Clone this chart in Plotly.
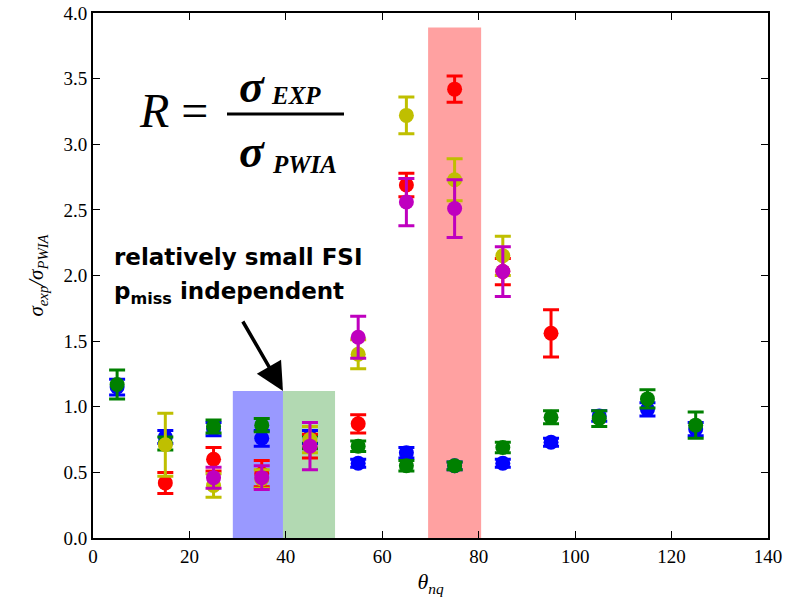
import plotly.graph_objects as go

# theta_nq bins (degrees)
theta_all = [5, 15, 25, 35, 45, 55, 65, 75, 85, 95, 105, 115, 125]
theta_red = [15, 25, 35, 45, 55, 65, 75, 85, 95]
theta_yel = [15, 25, 35, 45, 55, 65, 75, 85]
theta_mag = [25, 35, 45, 55, 65, 75, 85]

# ratio sigma_exp / sigma_PWIA and uncertainties
blue_val = [1.15, 0.77, 0.83, 0.76, 0.77, 0.57, 0.65, 0.55, 0.57, 0.73, 0.93, 0.98, 0.83]
blue_err = [0.06, 0.05, 0.05, 0.06, 0.05, 0.03, 0.04, 0.03, 0.03, 0.03, 0.04, 0.05, 0.05]
green_val = [1.17, 0.72, 0.85, 0.86, 0.73, 0.70, 0.55, 0.55, 0.69, 0.92, 0.91, 1.06, 0.86]
green_err = [0.11, 0.05, 0.05, 0.05, 0.05, 0.04, 0.04, 0.03, 0.04, 0.05, 0.06, 0.07, 0.10]
red_val = [0.42, 0.60, 0.49, 0.70, 0.87, 2.69, 3.42, 2.03, 1.56]
red_err = [0.08, 0.09, 0.10, 0.09, 0.07, 0.09, 0.10, 0.10, 0.18]
yel_val = [0.71, 0.40, 0.45, 0.75, 1.40, 3.22, 2.73, 2.15]
yel_err = [0.24, 0.09, 0.07, 0.10, 0.11, 0.14, 0.16, 0.15]
mag_val = [0.46, 0.46, 0.70, 1.53, 2.56, 2.51, 2.03]
mag_err = [0.08, 0.09, 0.18, 0.16, 0.18, 0.22, 0.19]

x_ticks = [0, 20, 40, 60, 80, 100, 120, 140]
y_ticks = [0.0, 0.5, 1.0, 1.5, 2.0, 2.5, 3.0, 3.5, 4.0]

# highlighted theta ranges: (x0, x1, y_top, fill)
bands = [
    (29.0, 39.4, 1.12, "rgba(0,0,255,0.4)"),
    (39.4, 50.2, 1.12, "rgba(0,128,0,0.3)"),
    (69.5, 80.5, 3.89, "rgba(255,0,0,0.37)"),
]

series = [
    (theta_all, blue_val, blue_err, "#0000ff"),
    (theta_all, green_val, green_err, "#008000"),
    (theta_red, red_val, red_err, "#ff0000"),
    (theta_yel, yel_val, yel_err, "#bfbf00"),
    (theta_mag, mag_val, mag_err, "#bf00bf"),
]

fig = go.Figure()
for xs, ys, es, col in series:
    fig.add_trace(go.Scatter(
        x=xs, y=ys, mode="markers",
        marker=dict(color=col, size=15, line=dict(width=0)),
        error_y=dict(type="data", array=es, visible=True,
                     color=col, thickness=3, width=8),
        showlegend=False,
    ))

for x0, x1, ytop, fill in bands:
    fig.add_shape(type="rect", x0=x0, x1=x1, y0=0, y1=ytop,
                  xref="x", yref="y", fillcolor=fill,
                  line=dict(width=0), layer="below")

L, R, T, B = 93, 36, 13, 62
W, H = 804, 600
pw, ph = W - L - R, H - T - B


def px(xp):
    return (xp - L) / pw


def py(yp):
    return (H - B - yp) / ph


serif = "Liberation Serif"
sans = "DejaVu Sans"

annotations = [
    dict(text="<i>R</i> =", x=px(173), y=py(111), font=dict(size=48, family=serif)),
    dict(text="<b><i>σ</i></b>", x=px(252), y=py(86), font=dict(size=46, family=serif)),
    dict(text="<b><i>EXP</i></b>", x=px(296), y=py(96), font=dict(size=25, family=serif)),
    dict(text="<b><i>σ</i></b>", x=px(252), y=py(151), font=dict(size=46, family=serif)),
    dict(text="<b><i>PWIA</i></b>", x=px(304), y=py(164), font=dict(size=25, family=serif)),
    dict(text="<b>relatively small FSI</b>", x=px(112), y=py(257), xanchor="left",
         font=dict(size=23, family=sans)),
    dict(text="<b>p<sub>miss</sub> independent</b>", x=px(112), y=py(293), xanchor="left",
         font=dict(size=23, family=sans)),
]
for a in annotations:
    a.setdefault("xanchor", "center")
    fig.add_annotation(xref="paper", yref="paper", yanchor="middle",
                       showarrow=False, font_color="black", **a)

# fraction bar of the formula
fig.add_shape(type="line", xref="paper", yref="paper",
              x0=px(227), x1=px(344), y0=py(114), y1=py(114),
              line=dict(color="black", width=3))

# arrow pointing at the boundary of the two low-angle bands
fig.add_annotation(x=39.4, y=1.12, xref="x", yref="y", ax=-41, ay=-71,
                   showarrow=True, arrowhead=2, arrowsize=1.6, arrowwidth=3.5,
                   arrowcolor="black", text="", standoff=0)

axis_common = dict(
    showline=True, linecolor="black", linewidth=2, mirror="ticks",
    ticks="inside", ticklen=7, tickcolor="black", tickwidth=1,
    showgrid=False, zeroline=False, automargin=False,
    tickfont=dict(family=serif, size=19, color="black"),
)

fig.update_layout(
    width=W, height=H,
    margin=dict(l=L, r=R, t=T, b=B, autoexpand=False),
    plot_bgcolor="white", paper_bgcolor="white",
    xaxis=dict(range=[0, 140], tickvals=x_ticks,
               ticktext=[str(v) for v in x_ticks],
               title=dict(text="<i>θ<sub>nq</sub></i>", standoff=8,
                          font=dict(family=serif, size=22, color="black")),
               **axis_common),
    yaxis=dict(range=[0, 4], tickvals=y_ticks,
               ticktext=[f"{v:.1f}" for v in y_ticks],
               title=dict(text="<i>σ<sub>exp</sub>/σ<sub>PWIA</sub></i>", standoff=14,
                          font=dict(family=serif, size=21, color="black")),
               **axis_common),
)

fig.write_html("out.html")
